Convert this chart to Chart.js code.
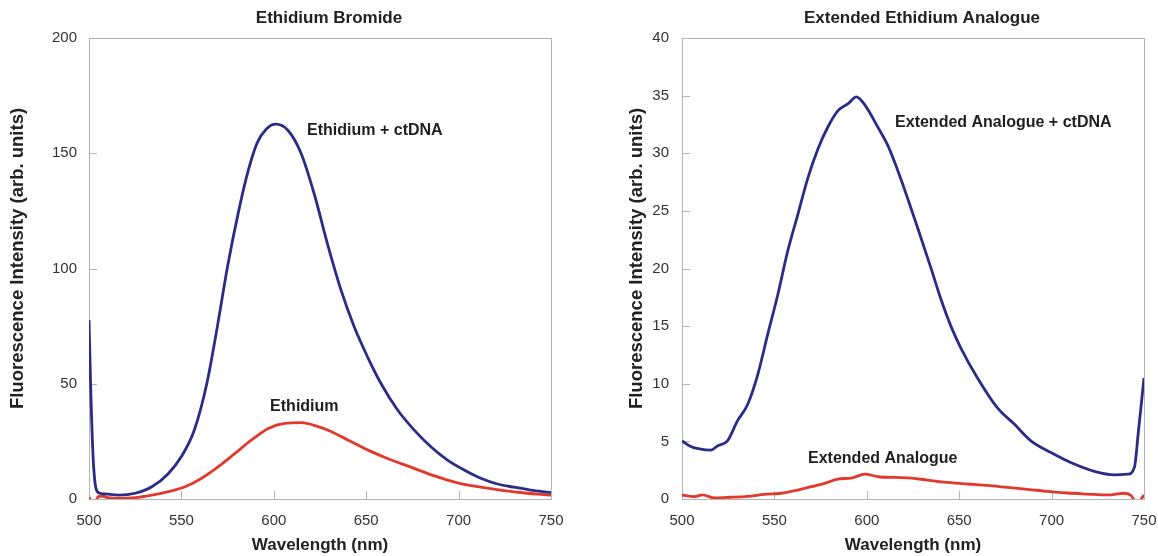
<!DOCTYPE html>
<html>
<head>
<meta charset="utf-8">
<script src="https://cdn.jsdelivr.net/npm/chart.js@4/dist/chart.umd.min.js"></script>
<style>
  html, body { margin: 0; padding: 0; background: #fff; overflow: hidden; }
  .panel { position: absolute; top: 0; height: 556px; }
  #left { left: 0; width: 579px; }
  #right { left: 579px; width: 589px; }
</style>
</head>
<body>
<div class="panel" id="left"><canvas id="ethChart" width="579" height="556"></canvas></div>
<div class="panel" id="right"><canvas id="extChart" width="589" height="556"></canvas></div>
<script>
// Ethidium bromide + ctDNA (blue)
const ethDnaWl = [500, 501, 502.3, 504, 506, 510, 516, 525, 534, 543, 550, 557, 564, 569.5, 575, 581, 586, 591, 596, 601, 607.6, 614.8, 622, 629, 636.4, 643.5, 650.7, 658, 667, 676, 685, 694, 703, 712, 721, 730, 739, 749, 750];
const ethDnaVal = [77.6, 46, 17, 4, 2.5, 2.1, 1.7, 2.5, 5.3, 11.1, 18.4, 29.9, 51, 75, 101, 125, 142, 154.5, 160.5, 162.6, 160, 149.9, 132, 110.8, 90.6, 74.7, 61.7, 50.1, 38.6, 29.9, 22.7, 16.9, 12.6, 9, 6.5, 5.1, 3.9, 2.9, 2.8];

// Ethidium alone (red)
const ethWl = [500, 501.5, 503.5, 505, 507, 510, 516, 525, 534, 543, 552, 561, 570, 579, 588, 597, 606, 615, 624, 631, 640, 651, 661.5, 676, 687, 699, 712, 724.5, 737, 749, 750];
const ethVal = [0.7, -1, -1, 1, 1.3, 0.6, 0.3, 0.6, 1.7, 3.2, 5.3, 9, 14, 19.8, 25.6, 30.6, 32.8, 33.1, 31.4, 29.3, 25.6, 21.2, 17.6, 13.3, 10, 7.1, 5.1, 3.6, 2.5, 1.7, 1.6];

// Extended analogue + ctDNA (blue)
const extDnaWl = [500, 504.7, 510, 515.6, 519.2, 524.6, 530, 535.5, 541, 546.4, 551.8, 557.2, 562.7, 568, 573.6, 579, 584.4, 589.9, 594.4, 598.9, 606.2, 611.6, 617, 622.5, 628, 634.6, 640, 645.5, 650.9, 659.9, 670.7, 679.8, 688.8, 699.6, 712.3, 723.1, 734, 741.2, 744.8, 747, 750];
const extDnaVal = [5.05, 4.56, 4.33, 4.24, 4.6, 5.05, 6.78, 8.2, 10.8, 14.3, 17.7, 21.5, 24.7, 27.8, 30.4, 32.3, 33.7, 34.3, 34.9, 34.2, 32.2, 30.6, 28.4, 25.9, 23.3, 20.1, 17.4, 15, 13.1, 10.5, 7.9, 6.5, 5.05, 4.04, 3.03, 2.4, 2.1, 2.16, 2.74, 5.9, 10.5];

// Extended analogue alone (red)
const extWl = [500, 506.5, 511, 517.4, 526.4, 535.5, 544.6, 553.6, 562.7, 569.9, 577.2, 584.4, 591.7, 598.9, 606.2, 615.2, 624.3, 632.8, 643.7, 654.5, 665.4, 676.2, 687, 697.8, 708.7, 719.5, 730.3, 739.4, 743, 745.5, 747, 748.5, 750];
const extVal = [0.35, 0.2, 0.35, 0.1, 0.15, 0.23, 0.4, 0.5, 0.78, 1.07, 1.36, 1.73, 1.82, 2.16, 1.93, 1.87, 1.82, 1.64, 1.44, 1.3, 1.18, 1.0, 0.84, 0.66, 0.52, 0.43, 0.35, 0.5, 0.3, -0.3, -0.4, 0, 0.35];

const wlRange = [500, 750];
const wlStep = 50;

const BLUE = '#2b2c85';
const RED = '#e2392d';
const FONT = "'Liberation Sans', Arial, Helvetica, sans-serif";

Chart.defaults.font.family = FONT;

function toPoints(xs, ys) {
  return xs.map((x, i) => ({ x: x, y: ys[i] }));
}

// box around the plot and short inward tick marks
const frameAndTicks = {
  id: 'frameAndTicks',
  beforeDatasetsDraw(chart) {
    const { ctx, chartArea: a, scales: { x, y } } = chart;
    ctx.save();
    ctx.strokeStyle = '#b3b3b3';
    ctx.lineWidth = 1;
    ctx.strokeRect(Math.round(a.left) + 0.5, Math.round(a.top) + 0.5, Math.round(a.right - a.left), Math.round(a.bottom - a.top));
    ctx.beginPath();
    x.ticks.forEach((t) => {
      const px = Math.round(x.getPixelForValue(t.value)) + 0.5;
      ctx.moveTo(px, a.bottom);
      ctx.lineTo(px, a.bottom - 8);
    });
    y.ticks.forEach((t) => {
      const py = Math.round(y.getPixelForValue(t.value)) + 0.5;
      ctx.moveTo(a.left, py);
      ctx.lineTo(a.left + 8, py);
    });
    ctx.stroke();
    ctx.restore();
  }
};

// chart title, y title and the curve names
const chartTexts = {
  id: 'chartTexts',
  afterDatasetsDraw(chart, args, opts) {
    const { ctx, chartArea: a, scales: { x, y } } = chart;
    const midX = (a.left + a.right) / 2;
    const midY = (a.top + a.bottom) / 2;
    ctx.save();
    ctx.fillStyle = '#222';
    ctx.textBaseline = 'middle';

    ctx.textAlign = 'center';
    ctx.font = 'bold 17px ' + FONT;
    ctx.fillText(opts.title, midX + 9, 18);

    ctx.save();
    ctx.translate(opts.yTitleX, midY - 10);
    ctx.rotate(-Math.PI / 2);
    ctx.font = 'bold 18.5px ' + FONT;
    ctx.fillText('Fluorescence Intensity (arb. units)', 0, 0);
    ctx.restore();

    ctx.textAlign = 'left';
    ctx.font = 'bold 16px ' + FONT;
    ctx.fillStyle = '#1e1e1e';
    (opts.items || []).forEach((it) => {
      ctx.fillText(it.text, x.getPixelForValue(it.x), y.getPixelForValue(it.y));
    });
    ctx.restore();
  }
};

function makeChart(id, o) {
  const ctx = document.getElementById(id).getContext('2d');
  return new Chart(ctx, {
    type: 'line',
    data: {
      datasets: [
        { data: toPoints(o.blueX, o.blueY), borderColor: BLUE, borderWidth: 2.8 },
        { data: toPoints(o.redX, o.redY), borderColor: RED, borderWidth: 2.8 }
      ]
    },
    options: {
      responsive: false,
      animation: false,
      layout: { padding: { left: 0, right: o.padRight, top: 38, bottom: 0 } },
      elements: {
        point: { radius: 0 },
        line: { cubicInterpolationMode: 'monotone', fill: false }
      },
      plugins: {
        legend: { display: false },
        tooltip: { enabled: false },
        title: { display: false },
        chartTexts: { title: o.title, yTitleX: o.yTitleX, items: o.labels }
      },
      scales: {
        x: {
          type: 'linear',
          min: wlRange[0],
          max: wlRange[1],
          grid: { display: false },
          border: { display: false },
          ticks: { stepSize: wlStep, color: '#333', font: { size: 15 }, padding: 5, maxRotation: 0 },
          title: {
            display: true,
            text: 'Wavelength (nm)',
            color: '#222',
            font: { size: 17, weight: 'bold' },
            padding: { top: 0, bottom: 0 }
          },
          afterFit(scale) { scale.height = 57; }
        },
        y: {
          min: 0,
          max: o.yMax,
          grid: { display: false },
          border: { display: false },
          ticks: { stepSize: o.yStep, color: '#333', font: { size: 15 }, padding: o.tickPad },
          title: { display: false },
          afterFit(scale) { scale.width = o.yWidth; }
        }
      }
    },
    plugins: [frameAndTicks, chartTexts]
  });
}

document.addEventListener('DOMContentLoaded', () => {
  makeChart('ethChart', {
    title: 'Ethidium Bromide',
    blueX: ethDnaWl, blueY: ethDnaVal,
    redX: ethWl, redY: ethVal,
    yMax: 200, yStep: 50,
    yWidth: 89, tickPad: 4, yTitleX: 18, padRight: 28,
    labels: [
      { text: 'Ethidium + ctDNA', x: 618, y: 160 },
      { text: 'Ethidium', x: 598, y: 40 }
    ]
  });

  makeChart('extChart', {
    title: 'Extended Ethidium Analogue',
    blueX: extDnaWl, blueY: extDnaVal,
    redX: extWl, redY: extVal,
    yMax: 40, yStep: 5,
    yWidth: 103, tickPad: 5, yTitleX: 58, padRight: 24,
    labels: [
      { text: 'Extended Analogue + ctDNA', x: 615.3, y: 32.7 },
      { text: 'Extended Analogue', x: 568.2, y: 3.48 }
    ]
  });
});
</script>
</body>
</html>
